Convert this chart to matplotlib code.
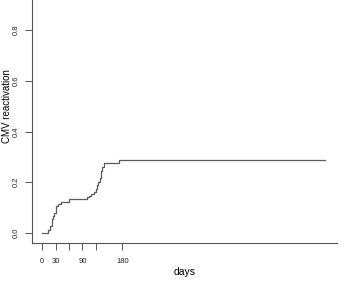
import numpy as np
import matplotlib
matplotlib.use("Agg")
import matplotlib.pyplot as plt

# cumulative incidence of CMV reactivation (step function)
event_days = [0, 12, 18, 21, 23, 25, 27, 30, 32, 35, 42, 61,
              101, 106, 110, 116, 120, 123, 125, 129, 131, 133, 135, 139, 173, 634]
incidence = [0.0, 0.013, 0.027, 0.040, 0.053, 0.067, 0.080, 0.093, 0.107, 0.113, 0.120, 0.133,
             0.140, 0.147, 0.153, 0.163, 0.175, 0.190, 0.200, 0.215, 0.230, 0.245, 0.260, 0.275,
             0.286, 0.286]

x_ticks = [0, 30, 60, 90, 120, 180]
x_tick_labels = ["0", "30", "", "90", "", "180"]
# 1.0 sits above the visible crop, so only the visible ticks are kept
y_ticks = [0.0, 0.2, 0.4, 0.6, 0.8]
y_tick_labels = ["0.0", "0.2", "0.4", "0.6", "0.8"]

plt.rcParams["font.family"] = ["Liberation Sans", "DejaVu Sans"]

fig = plt.figure(figsize=(3.54, 2.84), dpi=100)
ax = fig.add_axes([32 / 354, 41 / 284, 305 / 354, 273.6 / 284])

ax.step(event_days, incidence, where="post", color="#5a5a5a", lw=0.9)

ax.set_xlim(-23, 662)
ax.set_ylim(-0.04, 1.04)

ax.spines["top"].set_visible(False)
ax.spines["right"].set_visible(False)
for s in ("left", "bottom"):
    ax.spines[s].set_color("#555555")
    ax.spines[s].set_linewidth(0.8)

ax.set_xticks(x_ticks)
ax.set_xticklabels(x_tick_labels)
ax.set_yticks(y_ticks)
ax.set_yticklabels(y_tick_labels, rotation=90, va="center")
ax.tick_params(axis="both", length=5, width=0.7, color="#555555", labelsize=5.5,
               labelcolor="#222222")
ax.tick_params(axis="x", pad=5.5)
ax.tick_params(axis="y", pad=4)

ax.set_xlabel("days", fontsize=7.5, labelpad=2)
ax.set_ylabel("CMV reactivation", fontsize=7, labelpad=0.5)

fig.savefig("out.png", dpi=100)
